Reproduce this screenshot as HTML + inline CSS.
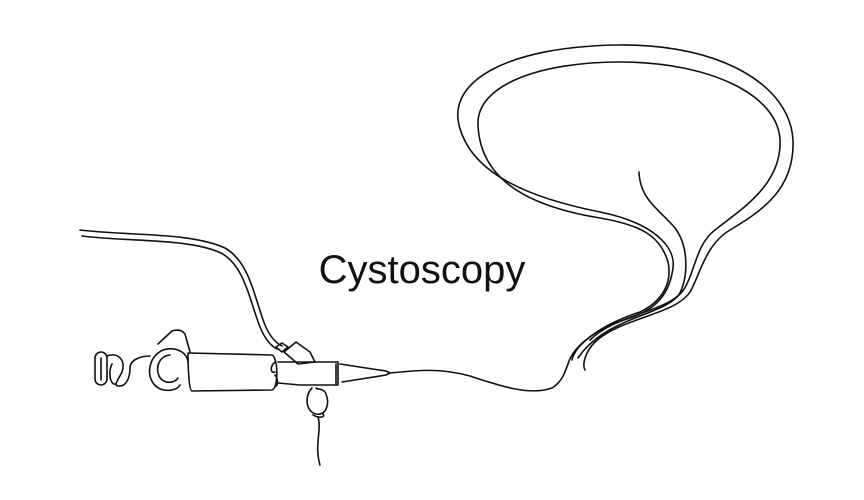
<!DOCTYPE html>
<html><head><meta charset="utf-8"><style>
html,body{margin:0;padding:0;background:#fff;}
svg{display:block}
</style></head><body>
<svg width="864" height="500" viewBox="0 0 864 500" xmlns="http://www.w3.org/2000/svg">
<g fill="none" stroke="#111" stroke-width="1.6" stroke-linecap="round" stroke-linejoin="round">
<!-- cable -->
<path d="M80,230 C130,236 190,232 225,248 C250,262 255,300 265,325 C270,337 276,343 282,346"/>
<path d="M82,236 C130,242 188,238 221,253 C245,266 250,302 260,327 C265,339 271,346 277,349"/>
<!-- eyepiece -->
<rect x="95" y="352" width="12" height="33" rx="6"/>
<path d="M101,358 L101,380"/>
<path d="M107,356 C118,352 126,360 122,372 C118,380 112,387 120,386 C126,386 130,378 130,368 C130,360 140,356 150,356"/>
<path d="M112,364 C108,372 110,386 116,384"/>
<!-- C ring -->
<path d="M180,385 C176,392 160,393 153,383 C146,372 150,356 163,350 C175,346 187,352 188,362"/>
<path d="M178,378 C174,384 163,384 159,376 C155,366 160,356 170,355"/>
<!-- top bump -->
<path d="M158,344 L172,331 C178,329 182,330 185,334 L190,352"/>
<!-- main tube -->
<path d="M188,353 L272,355 C278,357 279,388 272,390 L192,391 C188,390 188,354 188,353"/>
<path d="M275,362 C270,366 270,374 275,372"/>
<path d="M275,375 C278,378 278,385 276,386"/>
<!-- connector -->
<path d="M278,362 L338,362 L338,385 L300,385 L278,383"/>
<path d="M336,364 L336,384"/>
<!-- side port -->
<path d="M276,347 L282,343 L288,347 L282,352 Z"/>
<path d="M284,352 L296,342 L310,352 L315,362 L298,364 Z"/>
<!-- cone -->
<path d="M340,364 L386,371 L390,373 L386,375 L342,382"/>
<!-- bottom valve -->
<path d="M312,388 C304,396 306,412 316,414 C326,416 330,404 326,394 C324,388 318,390 316,388"/>
<path d="M313,415 C318,418 326,418 323,414"/>
<path d="M318,417 C322,430 314,445 320,465"/>
<!-- connecting line -->
<path d="M390,373 C420,370 440,368 470,376 C500,386 530,396 552,388 C562,382 565,372 568,364"/>
<!-- bladder outer -->
<path d="M568,364 C572,350 590,330 630,318 C660,308 670,290 673,268 C676,245 650,222 600,212 C520,196 470,170 459,125 C448,80 510,46 620,45 C720,44 790,85 793,140 C795,190 760,212 730,230 C705,245 700,275 690,292 C675,315 620,318 595,342 C585,352 582,365 585,370"/>
<!-- bladder inner -->
<path d="M572,360 C575,345 600,325 640,312 C665,300 672,280 668,262 C660,235 640,225 600,218 C520,205 480,175 478,125 C476,85 540,62 620,62 C710,62 778,95 780,140 C782,185 740,210 715,230 C695,245 695,275 682,292 C665,312 615,315 590,340"/>
<!-- stalk -->
<path d="M639,172 C640,200 660,210 675,228 C690,248 688,282 678,296 C660,316 605,318 578,358"/>
</g>
<text x="422" y="283" text-anchor="middle" font-family="'Liberation Sans', sans-serif" font-size="40" fill="#111">Cystoscopy</text>
</svg>
</body></html>
